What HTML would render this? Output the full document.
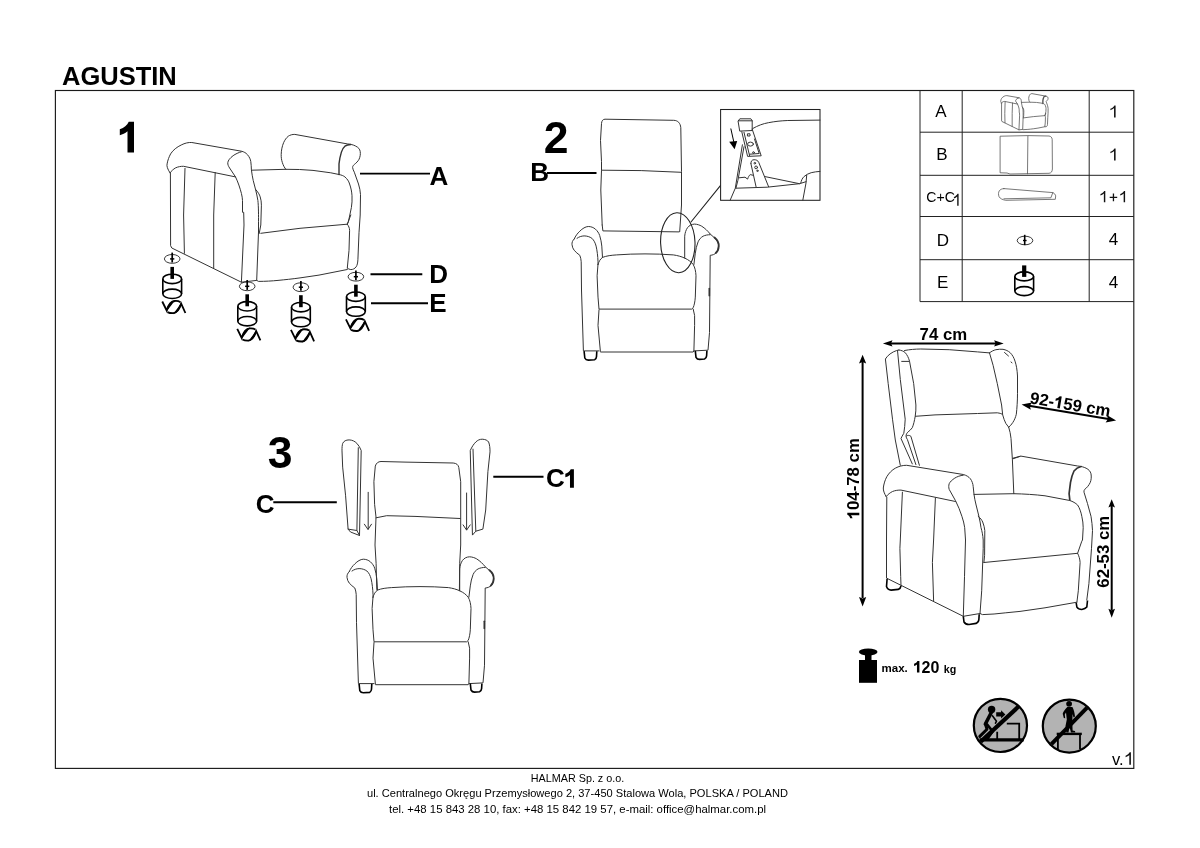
<!DOCTYPE html>
<html><head><meta charset="utf-8">
<style>
html,body{margin:0;padding:0;background:#fff;}
body{width:1200px;height:848px;overflow:hidden;position:relative;font-family:"Liberation Sans",sans-serif;}
svg{position:absolute;left:0;top:0;will-change:transform;}
text{font-family:"Liberation Sans",sans-serif;fill:#000;}
.b{font-weight:bold;}
.l{fill:none;stroke:#333;stroke-width:1;stroke-linecap:round;stroke-linejoin:round;}
.k{fill:none;stroke:#000;stroke-width:1.9;stroke-linecap:butt;}
#chairA path{vector-effect:non-scaling-stroke;}
.t{fill:none;stroke:#555;stroke-width:0.8;stroke-linecap:round;stroke-linejoin:round;}
</style></head><body>
<svg width="1200" height="848" viewBox="0 0 1200 848">
<!-- FRAME -->
<rect x="55.4" y="90.5" width="1078.4" height="677.9" fill="none" stroke="#1a1a1a" stroke-width="1.15"/>
<text x="62" y="84.5" class="b" font-size="25.5">AGUSTIN</text>
<!-- FOOTER -->
<g font-size="11" text-anchor="middle" fill="#111">
<text x="577.5" y="781.5" textLength="93.5" lengthAdjust="spacingAndGlyphs">HALMAR Sp. z o.o.</text>
<text x="577.5" y="797" textLength="421" lengthAdjust="spacingAndGlyphs">ul. Centralnego Okręgu Przemysłowego 2, 37-450 Stalowa Wola, POLSKA / POLAND</text>
<text x="577.5" y="812.5" textLength="377" lengthAdjust="spacingAndGlyphs">tel. +48 15 843 28 10, fax: +48 15 842 19 57, e-mail: office@halmar.com.pl</text>
</g>
<text x="1112" y="764.8" font-size="16.5" fill="#111">v.</text><path transform="translate(1130.9,764.8) scale(1.02)" d="M0,0 L0,-12.2 L-1.2,-12.2 C-1.9,-10.8 -3.4,-9.6 -5.2,-8.9 L-5.2,-7.4 C-3.9,-7.8 -2.5,-8.6 -1.55,-9.5 L-1.55,0 Z" fill="#111"/>
<!-- STEP1 -->
<g id="s1">
<path d="M134,121.8 L134,152.5 L127.5,152.5 L127.5,131.25 C125,133.3 122.5,134.6 119.8,135.2 L119.8,129.2 C124.2,127.9 127.1,125.4 128.75,121.8 Z" fill="#000"/>
<g class="l"><g id="chairA">
<!-- left arm roll -->
<path d="M170,172.8 C167.5,169 166.5,166 167.1,163.9 C167.8,160 169,157 170.6,153.9 C173,150 177,147 181.2,145 C185,143 188.5,142.3 191.8,142.5 L241.4,151.2 C244,151.8 246,153 247.3,154.5 C249.5,157 250.5,159.5 250.8,161.6 C251.2,164.5 251.3,167 251.4,169.8 C251.8,173.5 252.5,177 253.2,180.4 L255.5,189.3 C256.5,193 257.3,197 257.9,200.5 C258.5,206 258.6,215 258.5,225 L258.5,232 L256.7,280.4"/>
<path d="M241.4,151.8 C238.5,152.5 235.5,154 233.1,155.7 C230,158 228,160.5 227.8,162.7 C227.6,164.5 228.5,166.3 229.6,168 L235.5,176.9 C238,182 240,188 241.4,193.4 C242,196 242.5,198.5 242.5,200.5 L242.5,212.3 L243.7,212.3 L244,225 L241.4,282.2"/>
<path d="M170,172.8 C171.5,170.8 173.5,169.2 175.3,168 C178,166.7 181,166.2 183.6,166.3 L235.5,176.9"/>
<path d="M170.4,172.8 L170.6,245.7 L171.8,248 L241.4,282.2 L256.7,280.4 L258.5,281.4 C265,281.4 272,281 278,280.4 C285,279.7 292,279 300,277.9 L319,275.1 L347.3,269.5"/>
<path d="M185,168.4 L183.6,215 L184.4,253.3"/>
<path d="M215.2,172.5 L213.7,215 L213.7,268"/>
<path d="M255.5,189.3 C258,192 259.5,194.5 260.2,196.9 C261,199.5 261.4,202 261.4,205.2 L260.8,225 L259.2,233.5"/>
<!-- back top -->
<path d="M251.4,170.2 L286,169.3 C295,169.2 304,169.6 313,170.4 L330.8,172.8 L339,174.5 C341.5,175 343.5,175.8 344.9,176.9 C347,178.8 348.8,181 349.6,184 C351,188 351.8,192 352,195.8 C352.2,200 352,204 351.4,207.5 L348.4,221.7 L347.3,224.2"/>
<!-- right roll -->
<path d="M285.9,169.4 C284.3,167.5 283.2,165.2 282.4,162.7 C281.5,160 281.1,157.5 281.2,154.5 C281.3,150 282.2,146 283.6,142.7 C284.8,140 286.3,137.8 288.3,136.2 C290,135 292.5,134.3 294.8,134.4 L347.3,143.9 C350.5,144.2 353.3,144.8 355.5,146 C358.5,147.5 359.9,149.2 360.2,151.5 C360.6,154 360.2,156.7 359.1,159.2 C358,161.3 356.2,163 354.3,164.5 C353.2,165.4 352.6,166.3 352.6,167.5 C352.8,169 353.5,170.6 354.3,172.2 L358.5,184 C359.6,187.5 360.3,191 360.5,194.6 L360.2,215 L359,232.7 L357.9,259.8 C357.7,263 357.2,265.3 356.1,266.9 C354.8,268.6 353,269.6 350.8,269.6 C349.3,269.4 348.2,268.8 347.3,268"/>
<path d="M350.8,144.5 C348.5,144.7 346.5,145.2 344.9,146.2 C343.2,147.6 342.1,149.6 341.4,152.1 C340.2,156 339.4,160 339,163.9 L339,174.5" stroke-width="1.4"/>
<!-- seat cushion -->
<path d="M260.8,233.3 L300,228.3 L347.3,224.2 L350.8,215"/>
<path d="M347.3,224.2 C348.7,226 349.5,228 349.6,230.3 L349,250.4 L347.3,268"/>
</g></g>
<g class="k">
<path d="M360,173.6 H430"/>
<path d="M370.5,274.2 H422.3"/>
<path d="M371,303.2 H428"/>
</g>
<text x="429.5" y="185" class="b" font-size="26">A</text>
<text x="429.2" y="283" class="b" font-size="26">D</text>
<text x="429.2" y="312.3" class="b" font-size="26">E</text>
<defs>
<path id="b1" d="M0,-30.7 L0,0 L-6.5,0 L-6.5,-21.25 C-9,-19.2 -11.5,-17.9 -14.2,-17.3 L-14.2,-23.3 C-9.8,-24.6 -6.9,-27.1 -5.25,-30.7 Z"/>
<g id="leg">
<ellipse cx="0" cy="0" rx="7.8" ry="4.4" fill="none" stroke="#222" stroke-width="0.9"/>
<path d="M0,-6.3 V3.6" stroke="#000" stroke-width="1.7" fill="none"/>
<path d="M-2.1,0 H2.1" stroke="#000" stroke-width="1.5" fill="none"/>
<path d="M0,8 V20" stroke="#000" stroke-width="3.6" fill="none"/>
<ellipse cx="0" cy="20" rx="9.4" ry="4.7" fill="none" stroke="#000" stroke-width="1.6"/>
<path d="M-9.4,20 V34.9 A9.4,4.7 0 0 0 9.4,34.9 V20" fill="none" stroke="#000" stroke-width="1.6"/>
<path d="M-9.4,34.9 A9.4,4.7 0 0 1 9.4,34.9" fill="none" stroke="#000" stroke-width="1.6"/>
<path d="M-9.95,42.6 L-5.53,51.6 C-4.1,46.7 -1.3,42.4 2.6,42.1 C4.7,41.9 6.85,42.4 8.26,43.3" fill="none" stroke="#000" stroke-width="1.8"/>
<path d="M-5.53,51.6 C-4.5,47.7 -2.35,44.2 1.2,42.4 L-0.2,44.5 C-2,46.7 -3.8,49.5 -5.53,51.6Z" fill="#000" stroke="#000" stroke-width="1.2"/>
<path d="M13.2,54.1 L8.97,44.7 C7.56,49.5 5.4,53.7 1.2,54.3 C-1.3,54.4 -3.05,54.1 -4.8,53.2" fill="none" stroke="#000" stroke-width="1.8"/>
<path d="M8.97,44.7 C7.9,48.4 6.1,52 2.96,53.7 L4,52 C6.1,49.5 7.56,47 8.97,44.7Z" fill="#000" stroke="#000" stroke-width="1.2"/>
</g>
</defs>
<use href="#leg" x="172.2" y="258.9"/>
<use href="#leg" x="247.2" y="286.3"/>
<use href="#leg" x="300.9" y="287.2"/>
<use href="#leg" x="355.9" y="276.7"/>
</g>
<!-- /STEP1 -->
<!-- STEP2 -->
<g id="s2">
<text x="543.8" y="152.5" class="b" font-size="44.5">2</text>
<text x="530.2" y="180.8" class="b" font-size="26">B</text>
<path class="k" d="M547,173 H596.5"/>
<g class="l">
<!-- backrest -->
<path d="M602.2,225 L600.8,190 L601.5,170.2 L601.5,161.7 L600.5,140.4 L601.5,123.4 C601.8,120.5 603,119.3 605,119.2 L673.7,120.3 C678,120.5 680.3,123 680.8,127.7 L681.5,171.6 L681.5,205 L679.7,231.6"/>
<path d="M602.2,225 L602.9,230.9 L679,231.9"/>
<path d="M601.8,170.2 L641.2,170.6 L681.5,172.3"/>
</g><g id="base"><g class="l"><!-- left arm -->
<path d="M574.2,239 C575.5,236 577.5,233.3 579.8,231.2 C582.5,228.5 585.5,226.6 588.3,226.5 C591,226.5 593.5,227.5 595.4,229.1 C597.3,230.8 598.8,233 599.7,235.5 C600.8,239 601.4,242.5 601.8,246.1 L602.5,257.4"/>
<path d="M574.2,239 C572.5,240.5 571.8,242.5 572,244.7 C572.3,247 573,248.8 574.2,250.3 C575.8,252.2 577.8,253.8 579.8,255.3 C580.6,257.2 581,259.3 581.2,261.7 L581.5,290 L583.4,350.9 L599,350.9"/>
<path d="M577,238.3 C579,236.8 581.5,236 584.1,235.9 C587,235.9 589.8,236.8 591.9,238.3 C594,240.3 595.3,243 596.1,246.1 C597.2,251 597.8,256 598,261.7 L598,264.5"/>
<!-- seat cushion -->
<path d="M598,264.5 C598.8,261.5 600.3,259 602.5,257.4 C606.5,255.8 611.5,255.2 616.7,254.9 C626,254.2 635.5,253.9 645,253.9 C654.5,253.9 664,254.2 673.3,254.9 C677.5,255.5 681.3,256.5 684.7,258.1 C688.5,259.8 691.3,262 693.2,264.5 C695,267.5 695.8,271.5 696,275.8 L695.3,297.1 C695,301.5 694.3,305 693.2,307.7 L691.7,309.1 L599,309.1 L598,297.1 L597.1,275.8 L598,264.5"/>
<path d="M599,309.8 L598,325.4 L600.4,351.6 L600.4,352 L693.2,352 L693.9,350.9 L694.6,325.4 L694.6,315.5 L693.2,309.1"/>
<!-- right arm -->
<path d="M684.7,258.1 L684.7,236.2 C685,232.8 686,229.8 687.5,227.7 C689.3,225.3 691.8,224.2 694.6,224.1 C697.2,224.2 699.6,225 701.7,226.2 C705,228.3 707.8,231 710.2,234 L715.8,239 C717.6,241 718.6,243.5 718.7,246.1 C718.6,248.7 717.8,250.8 716.5,252.5 C714.8,254.3 712.6,255.2 710.2,255.3 L709.9,290 L709.5,332.5 L708,350.2 L693.9,350.9"/>
<path d="M710.2,234.7 C707.7,234.7 705.2,235.2 703.1,236.2 C700.8,237.5 699.2,239.4 698.1,241.8 C696.7,245.3 695.8,249.2 695.3,253.2 L693.9,264.5"/>
<path d="M714.5,237.5 C717.5,240 718.9,243 718.7,246.1 C718.6,249 717.7,251.3 715.8,253" stroke-width="1.8"/>
<path d="M709.3,288.6 V295.7" stroke-width="1.6"/>
</g><g fill="none" stroke="#000" stroke-width="1.6" stroke-linejoin="round">
<path d="M584.1,351.2 L584.8,358 C585.5,359.5 586.8,360.1 588.3,360.1 L594.7,359.7 C595.8,359 596.4,358 596.5,356.6 L596.8,351.2"/>
<path d="M695.3,350.9 L696,357.3 C696.8,358.8 698,359.4 699.5,359.4 L704.5,359 C705.8,358.4 706.5,357.3 706.6,355.9 L706.9,350.9"/>
</g></g><g class="l"><!-- callout -->
<ellipse cx="677.8" cy="242.7" rx="17.2" ry="30" transform="rotate(-2 677.8 242.7)" stroke="#222" stroke-width="1.1"/>
<path d="M691,222 L720.6,185.4" stroke="#222" stroke-width="1.1"/>
</g>

<!-- detail box -->
<rect x="720.6" y="109.5" width="99.4" height="90.8" fill="#fff" stroke="#222" stroke-width="1.05"/>
<g class="l" stroke="#222">
<path d="M738.3,120.8 L739.8,118.8 L750.9,118.8 L752.2,120.8 L752.2,130.5 L740.1,131.1 Z M738.3,120.8 L752.2,120.8"/>
<path d="M741.8,131.8 L747.6,156.4 L761.2,155.8 L752.2,129.2"/>
<path d="M744,132.4 L749.6,155.8 M754.5,139 L759.2,153.5 L749.6,154.2"/>
<ellipse cx="750.5" cy="144.1" rx="2.9" ry="2"/>
<circle cx="753.5" cy="152.6" r="0.9"/>
<rect x="747.8" y="133.8" width="2.2" height="2.2"/>
<path d="M752.8,128.5 C758,125.5 763,123.7 768.4,122.7 C775,121.4 781,120.8 787.8,120.5 L820,120.1"/>
<path d="M742.4,144.8 L735.3,188.2 L730.1,200.3"/>
<path d="M744,146.7 L737.9,180.4 L735.9,188.2"/>
<path d="M750.9,163.6 C750.8,161 752,159.8 754.1,159.7 C756.3,159.7 757.8,160.5 758.7,162.3 L768.6,186.7"/>
<path d="M750.9,163.6 L756.1,186.9"/>
<circle cx="754.8" cy="163.2" r="0.8"/>
<circle cx="756.1" cy="167.4" r="1.4"/>
<circle cx="757.4" cy="170.8" r="0.7"/>
<path d="M735.9,188.2 L767.1,187.2 L799.5,183.7 L806,181.7"/>
<path d="M764.5,176.5 L799.5,183.7"/>
<path d="M739.2,177.8 L745,177.2 L747.6,179.1 C748.3,177 749.2,175.3 750.2,174.6 L752.8,175.2"/>
<path d="M820,171.4 C817,171.6 814,172 811.2,172.7 C808.5,173.5 806,174.8 804.1,176.5 C802.3,178.3 801.2,180.5 800.8,183"/>
<path d="M806.7,175.2 L806,183 L802.8,200.3"/>
</g>
<path d="M730.8,128.5 L734,142.8" stroke="#000" stroke-width="1" fill="none"/>
<path d="M729.2,141.8 L737.2,140.9 L734.6,149.3 Z" fill="#000"/>
</g>
<!-- /STEP2 -->
<!-- STEP3 -->
<g id="s3">
<text x="267.7" y="468.2" class="b" font-size="44.5">3</text>
<text x="255.8" y="512.5" class="b" font-size="26">C</text>
<text x="546" y="487.3" class="b" font-size="26">C</text><use href="#b1" transform="translate(573.9,487.8) scale(0.603)"/>
<path class="k" d="M273.3,502.2 H336.8 M493.3,476.7 H543.5"/>
<use href="#base" transform="translate(-225,332.7)"/>
<g class="l">
<!-- backrest -->
<path d="M376.8,589.5 L376.1,563.3 L375,545 L376,517.1 L374.6,504.3 L373.9,481.7 L375.3,466.1 C376.3,463 378.2,461.6 381,461.5 L405,462.1 L453.2,463 C456.5,463.3 458.3,464.8 458.8,467.5 L460.7,481.7 L460.7,545 L459.7,563.3 L459.4,590.5"/>
<path d="M376,517.8 L386.7,515.7 L415,516.4 L460.2,518.5"/>
<!-- wing C -->
<path d="M342,450.5 C341.9,447.5 342.2,445 342.7,443.4 C343.8,441 346,439.9 349.1,439.9 C352.2,440 354.8,441.2 356.9,443.4 C358.8,445.5 360.2,447.8 361.2,450.5 L359.5,535.5 L350.5,532 L348.1,529.1 L345.6,495.8 L342.7,467.5 Z"/>
<path d="M358.3,447.7 L356.9,530.5 L350.5,529.5 M356.9,530.5 L359.5,535.5 M348.1,529.1 L350.5,529.5"/>
<!-- wing C1 -->
<path d="M470.4,450.2 C471.8,447 473.6,444.2 475.8,442 C477.6,440.2 479.8,439.2 482.2,439.2 C485.3,439.3 487.5,440.3 488.6,442 C489.6,444.5 490.1,448 490,451.9 L487.9,471.7 L485.7,510 L482.9,529.1 L475.8,531.2 L472.7,534.8 Z"/>
<path d="M473,449.1 L475.8,531"/>
<!-- arrows -->
<path d="M368.2,492.3 V529.1 M364.4,524.2 L368,529.5 L371.5,524.2" stroke="#333"/>
<path d="M466.6,493 V529.8 M463.1,524.9 L466.6,530.1 L470.2,524.9" stroke="#333"/>
</g>
</g>
<!-- /STEP3 -->
<!-- TABLE -->
<g id="tbl">
<g fill="none" stroke="#222" stroke-width="1">
<path d="M920,90.5 V301.6 H1133.8"/>
<path d="M962.2,90.5 V301.6 M1089.2,90.5 V301.6"/>
<path d="M920,132.2 H1133.8 M920,175.3 H1133.8 M920,216.5 H1133.8 M920,259.7 H1133.8"/>
</g>
<g font-size="17" text-anchor="middle" fill="#111">
<text x="940.9" y="117.3">A</text>
<text x="941.8" y="160.3">B</text>
<text x="942.8" y="245.7">D</text>
<text x="942.6" y="288">E</text>
<path transform="translate(1115.6,117.6)" d="M0,0 L0,-12.2 L-1.2,-12.2 C-1.9,-10.8 -3.4,-9.6 -5.2,-8.9 L-5.2,-7.4 C-3.9,-7.8 -2.5,-8.6 -1.55,-9.5 L-1.55,0 Z"/>
<path transform="translate(1115.6,160.6)" d="M0,0 L0,-12.2 L-1.2,-12.2 C-1.9,-10.8 -3.4,-9.6 -5.2,-8.9 L-5.2,-7.4 C-3.9,-7.8 -2.5,-8.6 -1.55,-9.5 L-1.55,0 Z"/>
<text x="1113.6" y="245.3">4</text>
<text x="1113.6" y="288.4">4</text>
</g>
<text x="926.3" y="202" font-size="14.6" fill="#111" textLength="28.6" lengthAdjust="spacingAndGlyphs">C+C</text>
<path transform="translate(958.6,205.7) scale(0.9,0.98)" d="M0,0 L0,-12.2 L-1.2,-12.2 C-1.9,-10.8 -3.4,-9.6 -5.2,-8.9 L-5.2,-7.4 C-3.9,-7.8 -2.5,-8.6 -1.55,-9.5 L-1.55,0 Z" fill="#111"/>
<path transform="translate(1105.3,202.3) scale(0.93)" d="M0,0 L0,-12.2 L-1.2,-12.2 C-1.9,-10.8 -3.4,-9.6 -5.2,-8.9 L-5.2,-7.4 C-3.9,-7.8 -2.5,-8.6 -1.55,-9.5 L-1.55,0 Z" fill="#111"/><path transform="translate(1125.1,202.3) scale(0.93)" d="M0,0 L0,-12.2 L-1.2,-12.2 C-1.9,-10.8 -3.4,-9.6 -5.2,-8.9 L-5.2,-7.4 C-3.9,-7.8 -2.5,-8.6 -1.55,-9.5 L-1.55,0 Z" fill="#111"/><path d="M1109.7,197.4 H1117.2 M1113.45,193.6 V201.2" stroke="#111" stroke-width="1.3" fill="none"/>
<g class="t">
<use href="#chairA" transform="translate(959.8,60.7) scale(0.245)"/>
<path d="M1000.5,136.2 L1027.9,135.6 L1049,136 C1051,136.3 1052,137.5 1052.2,139.5 L1052.4,169 C1052.2,171.8 1051.2,173 1049,173.3 L1010,174 L1007,173 L1000.5,172.8 Z"/>
<path d="M1027.9,136 L1027.5,173.8"/>
<path d="M1003.9,188.6 L1052.8,192.6 C1054.5,193.5 1055.5,194.6 1055.7,195.9 L1055.3,199.3 L1005.8,200.3 C1002.5,199.8 1000.2,198.6 999.1,196.8 C998.2,194.5 998.3,192.5 999.3,190.8 C1000.3,189.5 1001.8,188.7 1003.9,188.6 Z"/>
<path d="M1003.9,198.8 L1050.9,197.8 L1052.8,192.6"/>
</g>
<g transform="translate(1025,240.5)">
<ellipse cx="0" cy="0" rx="7.8" ry="4.3" fill="none" stroke="#222" stroke-width="0.9"/>
<path d="M-0.3,-5.7 V4.6" stroke="#000" stroke-width="1.6" fill="none"/>
<path d="M-2,0 H1.6" stroke="#000" stroke-width="1.4" fill="none"/>
</g>
<g transform="translate(1024.2,256.4)" fill="none" stroke="#000" stroke-width="1.6">
<path d="M0,9 V20.5" stroke-width="4.2"/>
<ellipse cx="0" cy="20" rx="9.4" ry="4.5"/>
<path d="M-9.4,20 V34.7 A9.4,4.5 0 0 0 9.4,34.7 V20"/>
<path d="M-9.4,34.7 A9.4,4.5 0 0 1 9.4,34.7"/>
</g>
</g>
<!-- /TABLE -->
<!-- DIMS -->
<g id="dims">
<g class="l">
<!-- left wing -->
<path d="M898.9,350 L896.7,350.5 C892,352 887.5,355.3 885.4,359 L888.2,383.7 L892.5,419.2 L895.3,440 L900.3,465.3"/>
<path d="M897.5,350.5 L900.3,379.5 L905.2,419.2 C905,424 904.5,429 903.8,433.3 C902.5,435.5 901.5,437 901,438.5 L912.3,463.9"/>
<path d="M898.9,350 C901.5,350.3 903.6,351.2 905.2,352.6 C907.2,355 908.6,357.8 909.5,361.1 L913.7,383.7 L915.9,405 C916,409 915.8,413 915.2,416.3 C914.5,420.5 913.6,424.5 912.3,427.7 C911,429.5 909.5,430.8 908.1,431.9 C906.8,433 906.1,434.5 906,436.2 C906.2,437.5 906.6,438.5 907.4,439.5 L915.9,464.6"/>
<path d="M906.5,436 C907.5,435 909.5,435.2 910.9,436.3 L919.4,465.3"/>
<path d="M901.7,361.4 H908.8"/>
<!-- head cushion -->
<path d="M904.5,350.5 C910,349.5 915,349.1 920.8,349 L949.2,349.7 L977.5,351.9 L989.5,352.9"/>
<path d="M915.4,416.3 L935,414.9 L977.5,413.5 L997.3,412.8 C999.5,413 1001,413.5 1002.3,414.2"/>
<!-- right wing -->
<path d="M989.5,352.9 C991.5,351.3 993.5,350.3 995.9,349.7 C998.3,349.2 1000.8,349.1 1003,349.3 C1005.8,349.8 1008.2,351 1010.1,352.6 C1012.3,354.8 1014,357.8 1015,361.1 C1016.3,365 1017.2,370 1017.5,376 L1017.5,393.3 C1017.5,401 1017,408 1016.3,414.3 C1015.5,417.5 1014.3,420.3 1012.8,422.5 C1011.5,424.5 1010,426.3 1008.4,427.5"/>
<path d="M989.5,352.9 L993.1,365.3 L997.3,383.7 L1001.6,405 L1002.7,414.9 C1003.5,418 1004.6,421 1005.8,423.4 L1008.7,427.2 C1009.8,430.5 1010.6,434.5 1011,438.4 L1012.4,459.7 L1013.8,493.7"/>
<path d="M1004.5,352.5 L1008.5,356 M1011,362 L1012,362.8"/>
<!-- left arm -->
<path d="M886.1,496.5 C884.3,493.5 883.2,490.5 883.3,488 C883.8,484 885,480 886.8,476.7 C889,473 892,470 895.3,468.2 C898.8,466.3 902.8,465.2 906.7,465.3 L963.3,474.5 C966.3,475.3 968.8,476.8 970.4,478.8 C972,481 973,483.8 973.2,486.6 L974,494.4 C974.5,498 975.2,501.5 976.1,505 L978.9,516.3 C979.8,520 980.5,524 981,527.7 C982,531 982.8,535 983.2,540 L983.2,548.3 L981.7,590.8 L980,613.5"/>
<path d="M963.3,475.2 C960,475.6 957.2,476.6 954.8,478.1 C952,480 950,481.8 949.2,483.7 C948.6,485.5 948.6,487.5 949.2,489.4 L955.5,500.7 C958,505.5 960.2,511 961.9,516.3 C963.2,520 964.2,524 964.7,527.7 L965.5,540 L964.5,576.7 L963.3,616.3"/>
<path d="M886.1,496.5 C888,494.3 890.2,492.7 892.5,491.5 C895.2,490.4 898.2,490 901,490.1 L955.5,501.5"/>
<path d="M886.8,497.2 L886.5,540 L886.5,578.1 L963.3,616.3 L980,613.5 L982.5,614.6 C990,614.4 998,613.8 1005.8,612.8 L1020,611.4 L1045,607.8 L1076.9,602.2"/>
<path d="M902.4,492.2 L900.3,540 L899.9,548.3 L900.7,576.7 L901,585.2"/>
<path d="M935.4,497.9 L933.6,540 L932.4,562.5 L933.6,600.7"/>
<path d="M978.2,516.3 C980.3,518 981.8,520 982.7,522 C983.8,524.8 984.5,527.8 984.8,530.5 L984.6,555.4 L983.9,562.5"/>
<!-- seat -->
<path d="M974,494.4 L1013.8,493.7 C1024,493.9 1035,494.6 1045,495.8 L1069.8,500.5 C1072.8,501.5 1075.5,503 1077.6,505 C1079.6,508 1081,512 1081.8,516.3 C1082.7,520 1083.2,524 1083.2,527.7 L1082.5,540 L1081.8,541.2 L1077.6,553.3 L983.9,562.5"/>
<path d="M1077.6,553.3 C1079,556 1079.9,559 1080.1,562.5 L1078.3,590.8 L1076.9,602.2"/>
<path d="M1012.9,458.2 L1020,456.3"/>
<!-- right arm -->
<path d="M1012.4,459 L1020.9,456.1 L1077.6,466 C1081,466.3 1083.8,467 1086.1,468.2 C1088.8,469.5 1090.4,471.3 1091,473.8 C1091.5,476.8 1091.3,479.8 1090.3,482.3 C1089,485.3 1087,487.6 1084.7,489.4 C1084,490.2 1083.8,491.2 1084,492.2 L1087.5,503.6 L1091,516.3 C1091.8,521 1092.3,526 1092.5,530.5 L1091.5,548.3 L1088.9,583.7 L1086.8,600"/>
<path d="M1081.1,466.5 C1078.3,467.2 1075.8,468.8 1074,471 C1072.3,474.5 1071.2,478.3 1070.5,482.3 L1069.1,493.7 L1069.8,500" stroke-width="1.7"/>
</g>
<g fill="none" stroke="#000" stroke-width="1.6" stroke-linejoin="round">
<path d="M887.1,578.8 L886.5,586.6 C887.3,589 889,590.1 891.1,590.1 L898.2,589.4 C899.8,588.8 900.8,587.6 901,585.9"/>
<path d="M963.3,616.3 L964,622 C965,623.8 966.8,624.5 969,624.5 L976.1,623.4 C977.8,622.7 978.8,621.3 978.9,619.2 L979.2,614.2"/>
<path d="M1076.2,602.9 L1076.9,607.1 C1078,608.8 1079.8,609.5 1081.8,609.5 C1084,609.2 1085.8,608.4 1086.8,607.1 L1087.5,600.5"/>
</g>
<!-- arrows -->
<g stroke="#000" stroke-width="2" fill="none">
<path d="M890,343.4 H996"/>
<path d="M862.6,362 V598"/>
<path d="M1111.7,506 V610"/>
<path d="M1029,405.7 L1108.5,419.1"/>
</g>
<g fill="#000">
<path d="M882.9,343.4 L892.5,340.3 L891,343.4 L892.5,346.5 Z"/>
<path d="M1003.7,343.4 L994.1,340.3 L995.6,343.4 L994.1,346.5 Z"/>
<path d="M862.6,354.7 L859,363.5 L862.6,362 L866.2,363.5 Z"/>
<path d="M862.6,606.4 L859,597 L862.6,598.5 L866.2,597 Z"/>
<path d="M1111.7,499.3 L1108.4,507.4 L1111.7,506 L1115,507.4 Z"/>
<path d="M1111.7,617.7 L1108.4,608.8 L1111.7,610.2 L1115,608.8 Z"/>
<g transform="translate(1021.6,404.4) rotate(9.6)"><path d="M0,0 L10,-3.7 L8.3,0 L10,3.7 Z"/></g>
<g transform="translate(1116.1,420.4) rotate(9.6)"><path d="M0,0 L-10,-3.7 L-8.3,0 L-10,3.7 Z"/></g>
</g>
<g class="b" font-size="16.8">
<text x="919.6" y="339.6">74 cm</text>
<g transform="translate(859.3,519.3) rotate(-90)"><use href="#b1" transform="translate(6.63,0) scale(0.3909)"/><text x="9.34" y="0">04-78 cm</text></g>
<text transform="translate(1108.8,587.7) rotate(-90)">62-53 cm</text>
<g transform="translate(1029.3,403.3) rotate(9.6)"><text x="0" y="0">92-</text><use href="#b1" transform="translate(30.9,0) scale(0.3909)"/><text x="33.62" y="0">59 cm</text></g>
</g>
<!-- weight -->
<g fill="#000">
<rect x="859" y="660" width="18" height="22.8"/>
<rect x="865" y="653" width="6.5" height="8"/>
<ellipse cx="868.2" cy="652" rx="9.3" ry="3.4"/>
</g>
<text x="881.6" y="672.3" class="b" font-size="11.5">max.</text>
<use href="#b1" transform="translate(919.4,672.5) scale(0.3746)"/><text x="921.6" y="672.5" class="b" font-size="16">20</text>
<text x="943.8" y="672.5" class="b" font-size="10.7">kg</text>
</g>
<!-- /DIMS -->
<!-- ICONS -->
<g id="icons">
<g>
<circle cx="1000.4" cy="725.4" r="26.6" fill="#b3b3b3" stroke="#000" stroke-width="2.2"/>
<path d="M979.5,739.9 H1023.6" stroke="#000" stroke-width="3.2" fill="none"/>
<path d="M997.2,739 V731.8 M1006.8,723.7 H1019.2 V739" stroke="#000" stroke-width="1.8" fill="none"/>
<circle cx="991.6" cy="709.5" r="3.7" fill="#000"/>
<path d="M991.2,712.7 L985.4,724" stroke="#000" stroke-width="3.6" fill="none" stroke-linecap="round"/>
<path d="M985.4,724 L987,729.3 L979.8,736.4" stroke="#000" stroke-width="3" fill="none" stroke-linejoin="round" stroke-linecap="round"/>
<path d="M987,724.3 L992.6,731.4 L988,738" stroke="#000" stroke-width="2.6" fill="none" stroke-linejoin="round" stroke-linecap="round"/>
<path d="M992.4,715.8 L996.5,721.2 L995.5,723.2" stroke="#000" stroke-width="1.6" fill="none" stroke-linecap="round" stroke-linejoin="round"/>
<path d="M996.2,712.3 H1001.1 V710.2 L1005.4,714.5 L1001.1,718.6 V716.4 H996.2 Z" fill="#000"/>
<path d="M1018.8,706.3 L980.6,741.7" stroke="#000" stroke-width="4.2" fill="none"/>
</g>
<g>
<circle cx="1069.3" cy="726.1" r="26.5" fill="#b3b3b3" stroke="#000" stroke-width="2.2"/>
<path d="M1056.7,733.9 H1081.8" stroke="#000" stroke-width="2.4" fill="none"/>
<path d="M1057.9,733.9 V749.8 M1080,733.9 V749" stroke="#000" stroke-width="1.8" fill="none"/>
<circle cx="1069.1" cy="703.8" r="2.9" fill="#000"/>
<path d="M1067.3,707 C1065.5,709 1063.2,711.5 1062.7,713.7 L1063.8,717.9 L1065.2,718.2 L1064.8,714.5 L1066,712.5 L1066.8,719.5 L1065.5,726 L1066.3,732.5 L1068.5,732.5 L1069.5,727 L1071,732.5 L1075.3,732.5 L1075,731 L1072.6,730.5 L1072.3,722 L1072.6,714 L1073.5,717.5 L1075,716.5 C1074.6,712.5 1073.8,709.5 1072.4,707 Z" fill="#000"/>
<path d="M1087.1,707.7 L1051.4,744.1" stroke="#000" stroke-width="4" fill="none"/>
</g>
</g>
<!-- /ICONS -->
</svg>
</body></html>
